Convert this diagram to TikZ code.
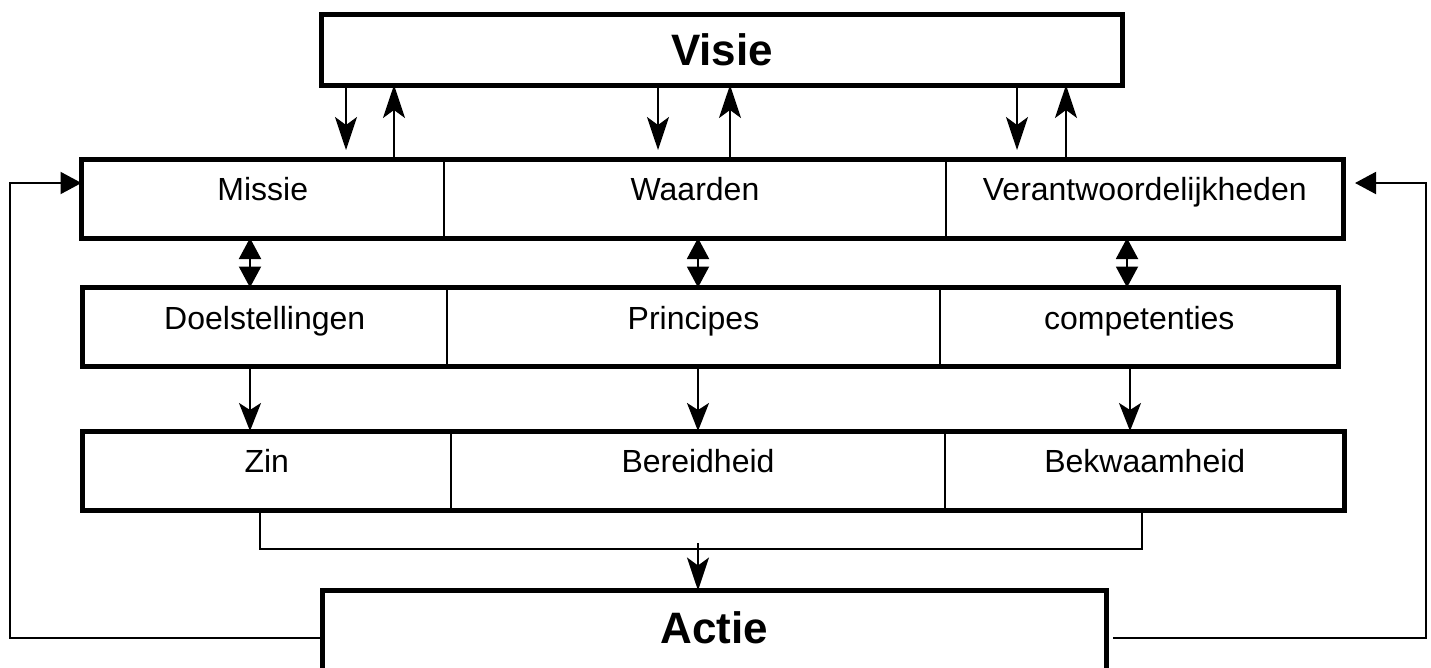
\documentclass[tikz,border=0pt]{standalone}
\usepackage{fontspec}
\setmainfont{Liberation Sans}
\usetikzlibrary{arrows.meta,fit}
\begin{document}
\begin{tikzpicture}[x=1pt,y=-1pt,
  cell/.style={draw, line width=2pt, inner sep=0pt, outer sep=0pt},
  frame/.style={line width=5pt, line join=miter},
  txt/.style={font=\fontsize{32}{38}\selectfont, text height=23pt, text depth=0pt, inner sep=0pt, yshift=9.5pt},
  big/.style={font=\fontsize{44}{50}\selectfont\bfseries, text height=32pt, text depth=0pt, inner sep=0pt},
  conn/.style={line width=2pt},
  vtip/.style={conn, -{Stealth[length=33pt,width=22pt,inset=8pt]}},
  dtip/.style={conn, -{Stealth[length=28pt,width=22pt,inset=7pt]}},
  both/.style={conn, {Triangle[length=21pt,width=22pt]}-{Triangle[length=21pt,width=22pt]}},
  back/.style={conn, -{Triangle[length=21pt,width=22pt]}}]

\useasboundingbox (0,0) rectangle (1431,667);

% Visie
\node[cell, line width=5pt, fit={(321.5,14.5) (1122.5,85)}, label={[big]center:Visie}] (v) {};

% row 1
\node[cell, fit={(81.5,159.5) (444,238)}, label={[txt]center:Missie}] (m1) {};
\node[cell, fit={(444,159.5) (946,238)}, label={[txt]center:Waarden}] (m2) {};
\node[cell, fit={(946,159.5) (1343.5,238)}, label={[txt]center:Verantwoordelijkheden}] (m3) {};
\draw[frame] (m1.north west) rectangle (m3.south east);

% row 2
\node[cell, fit={(82.5,287.5) (447,366.5)}, label={[txt]center:Doelstellingen}] (d1) {};
\node[cell, fit={(447,287.5) (940,366.5)}, label={[txt]center:Principes}] (d2) {};
\node[cell, fit={(940,287.5) (1338.5,366.5)}, label={[txt]center:competenties}] (d3) {};
\draw[frame] (d1.north west) rectangle (d3.south east);

% row 3
\node[cell, fit={(82.5,431) (451,510.5)}, label={[txt]center:Zin}] (z1) {};
\node[cell, fit={(451,431) (945,510.5)}, label={[txt]center:Bereidheid}] (z2) {};
\node[cell, fit={(945,431) (1344.5,510.5)}, label={[txt]center:Bekwaamheid}] (z3) {};
\draw[frame] (z1.north west) rectangle (z3.south east);

% Actie
\node[cell, line width=5pt, fit={(322.5,590.5) (1106.5,700)}, label={[big, yshift=18pt]center:Actie}] (a) {};

% Visie <-> row 1
\draw[vtip] (346,0 |- v.south) -- (346,150);
\draw[vtip] (394,0 |- m1.north) -- (394,0 |- v.south);
\draw[vtip] (658,0 |- v.south) -- (658,150);
\draw[vtip] (730,0 |- m2.north) -- (730,0 |- v.south);
\draw[vtip] (1017,0 |- v.south) -- (1017,150);
\draw[vtip] (1066,0 |- m3.north) -- (1066,0 |- v.south);

% row 1 <-> row 2
\draw[both] (250,0 |- m1.south) -- (250,0 |- d1.north);
\draw[both] (698,0 |- m2.south) -- (698,0 |- d2.north);
\draw[both] (1127,0 |- m3.south) -- (1127,0 |- d3.north);

% row 2 -> row 3
\draw[dtip] (250,0 |- d1.south) -- (250,0 |- z1.north);
\draw[dtip] (698,0 |- d2.south) -- (698,0 |- z2.north);
\draw[dtip] (1130,0 |- d3.south) -- (1130,0 |- z3.north);

% row 3 -> Actie
\draw[conn] (260,0 |- z1.south) -- (260,549) -- (1142,549) -- (1142,0 |- z3.south);
\coordinate (j) at (698,543);
\draw[vtip] (j) -- (698,0 |- a.north);

% feedback loops
\coordinate (lb) at (10,638);
\coordinate (rb) at (1426,638);
\draw[back] (a.west |- lb) -- (lb) -- (10,183) -- (m1.west |- 0,183);
\coordinate (rs) at (1113,638);
\coordinate (re) at (1355,183);
\draw[back] (rs) -- (rb) -- (1426,183) -- (re);
\end{tikzpicture}
\end{document}
